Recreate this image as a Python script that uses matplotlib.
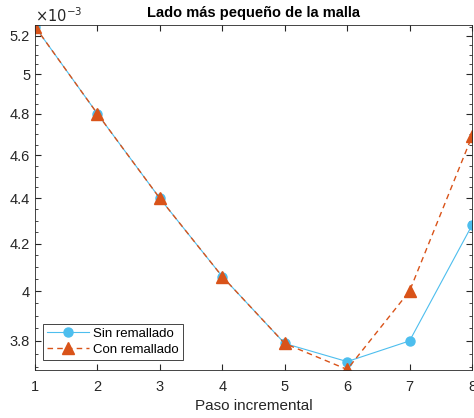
import numpy as np
import matplotlib
import matplotlib.pyplot as plt
from matplotlib.ticker import FixedLocator, NullFormatter, FuncFormatter

plt.rcParams['font.family'] = ['Liberation Sans', 'DejaVu Sans']

pasos = [1, 2, 3, 4, 5, 6, 7, 8]
# lado minimo (x 1e-3)
sin_remallado = [5.25, 4.80, 4.40, 4.06, 3.79, 3.72, 3.80, 4.28]
con_remallado = [5.25, 4.80, 4.40, 4.06, 3.79, 3.69, 4.00, 4.69]
yticks = [3.8, 4.0, 4.2, 4.4, 4.6, 4.8, 5.0, 5.2]

fig = plt.figure()
fig.set_size_inches(4.74, 4.18)
ax = fig.add_axes([35/474, 1 - 370/418, 437/474, 345/418])

ax.plot(pasos, sin_remallado, '-o', color='#4DBEEE', lw=0.8, ms=6.5, label='Sin remallado')
ax.plot(pasos, con_remallado, '--^', color='#D95319', lw=1.0, ms=8, label='Con remallado', dashes=(4, 3))

ax.set_yscale('log')
ax.set_xlim(1, 8)
ax.set_ylim(3.688, 5.259)
ax.yaxis.set_major_locator(FixedLocator(yticks))
ax.yaxis.set_major_formatter(FuncFormatter(lambda v, p: '%g' % round(v, 2)))
ax.yaxis.set_minor_locator(FixedLocator(np.arange(3.70, 5.26, 0.05)))
ax.yaxis.set_minor_formatter(NullFormatter())
ax.set_xticks(pasos)

gray = '#262626'
for s in ax.spines.values():
    s.set_color(gray)
    s.set_linewidth(0.6)
ax.tick_params(which='both', direction='in', top=True, right=True, colors=gray, labelsize=10.5)
ax.tick_params(which='major', length=4)
ax.tick_params(which='minor', length=2)
ax.tick_params(axis='x', pad=7)

ax.set_title('Lado más pequeño de la malla', fontsize=10.5, fontweight='bold', pad=6)
ax.set_xlabel('Paso incremental', fontsize=11, color=gray)
ax.text(0, 1.0, r'$\times10^{-3}$', transform=ax.transAxes, fontsize=10.5, color=gray,
        ha='left', va='bottom')

leg = ax.legend(loc='lower left', bbox_to_anchor=(8/437, 10/345), borderaxespad=0,
                fontsize=9.5, fancybox=False, edgecolor=gray, framealpha=1,
                handlelength=3.2, handletextpad=0.3, borderpad=0.3, labelspacing=0.3)
leg.get_frame().set_linewidth(0.6)

plt.savefig('out.png', dpi=100)
